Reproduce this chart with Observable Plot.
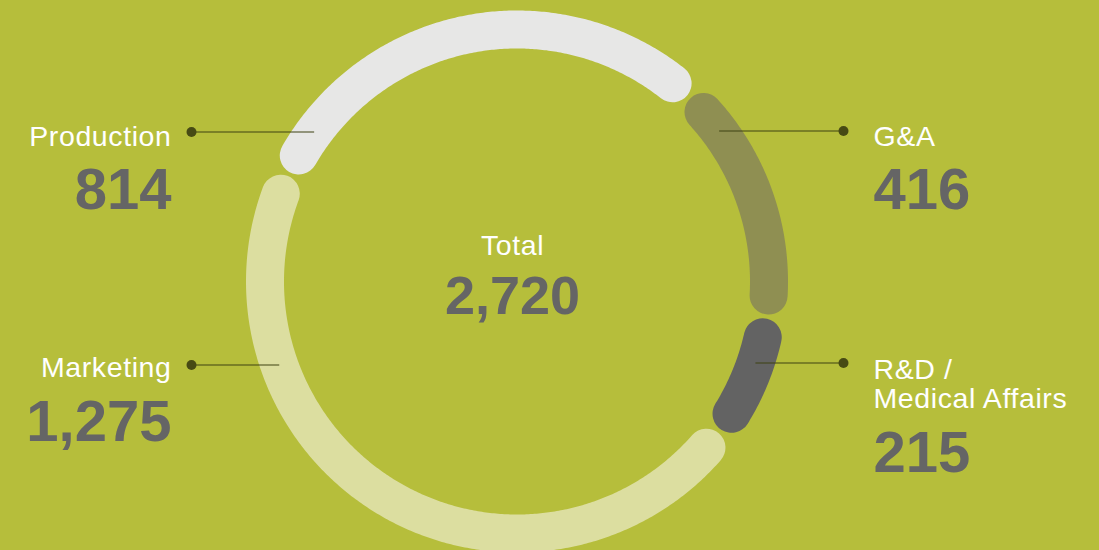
<!DOCTYPE html>
<html>
<head>
<meta charset="utf-8">
<script src="https://cdn.jsdelivr.net/npm/d3@7"></script>
<script src="https://cdn.jsdelivr.net/npm/@observablehq/plot@0.6"></script>
<style>
  html, body { margin: 0; padding: 0; background: #b6be3b; }
  #chart svg { display: block; }
  #chart g[fill="white"] text, #chart g[fill="white"] tspan { letter-spacing: 0.6px; }
</style>
</head>
<body>
<div id="chart"></div>
<script>
// ---- data ----
const categories = ["Production", "G&A", "R&D /\nMedical Affairs", "Marketing"];
const values = [814, 416, 215, 1275];
const colors = ["#e7e7e6", "#8f8f52", "#636363", "#dcdea0"];
const totalLabel = "Total";
const sides = ["left", "right", "right", "left"];

// ---- layout ----
const W = 1099, H = 550;
const cx = 516.5, cy = 281, R = 252;
const startAngle = -64.8;   // degrees, clockwise from top
const pad = 4.8;            // degrees trimmed from each end of a segment
const ringWidth = 38;
const leaderY = [131.5, 130.5, 362.5, 364.5];
const labelBase = [145, 145.5, 407.3, 376.7];
const valueBase = [208.5, 208.5, 471.5, 440.5];
const dotX = {left: 191, right: 843};
const textX = {left: 171, right: 873};
const centerTextX = 512;

const total = d3.sum(values);
const fmt = d3.format(",");

// ring segments sampled along their arcs
const ringPts = [];
let acc = 0;
values.forEach((v, i) => {
  const a0 = startAngle + acc / total * 360 + pad;
  const a1 = startAngle + (acc + v) / total * 360 - pad;
  acc += v;
  const n = Math.max(2, Math.ceil((a1 - a0) / 0.5));
  for (let k = 0; k <= n; k++) {
    const a = (a0 + (a1 - a0) * k / n) * Math.PI / 180;
    ringPts.push({cat: categories[i], color: colors[i], x: cx + R * Math.sin(a), y: cy - R * Math.cos(a)});
  }
});

// leader lines from ring to dot
const leaders = categories.map((c, i) => {
  const y = leaderY[i];
  const dx = Math.sqrt(R * R - (y - cy) * (y - cy));
  const side = sides[i];
  return {cat: c, y, x1: side === "left" ? cx - dx : cx + dx, x2: dotX[side], side};
});

const labelRows = categories.map((c, i) => ({
  label: c,
  value: fmt(values[i]),
  side: sides[i],
  x: textX[sides[i]],
  y: labelBase[i],
  yv: valueBase[i]
}));
const leftRows = labelRows.filter(d => d.side === "left");
const rightRows = labelRows.filter(d => d.side === "right");

const font = "'Liberation Sans', Arial, Helvetica, sans-serif";
const labelOpts = {x: "x", y: "y", text: "label", fill: "white", fontSize: 28.5, lineAnchor: "bottom", lineHeight: 29 / 28.5};
const valueOpts = {x: "x", y: "yv", text: "value", fill: "#656565", fontSize: 58, fontWeight: "bold", lineAnchor: "bottom"};

const chart = Plot.plot({
  width: W,
  height: H,
  margin: 0,
  x: {domain: [0, W], range: [0, W], axis: null},
  y: {domain: [0, H], range: [0, H], axis: null},
  style: {background: "#b6be3b", fontFamily: font},
  marks: [
    Plot.line(ringPts, {x: "x", y: "y", z: "cat", stroke: "color", strokeWidth: ringWidth, strokeLinecap: "round", strokeLinejoin: "round"}),
    Plot.link(leaders, {x1: "x1", y1: "y", x2: "x2", y2: "y", stroke: "#3f4212", strokeWidth: 1.2}),
    Plot.dot(leaders, {x: "x2", y: "y", r: 5, fill: "#474a14", stroke: null}),
    Plot.text(leftRows, {...labelOpts, textAnchor: "end"}),
    Plot.text(rightRows, {...labelOpts, textAnchor: "start"}),
    Plot.text(leftRows, {...valueOpts, textAnchor: "end"}),
    Plot.text(rightRows, {...valueOpts, textAnchor: "start"}),
    Plot.text([totalLabel], {x: [centerTextX], y: [254], text: d => d, textAnchor: "middle", fill: "white", fontSize: 28.5, lineAnchor: "bottom"}),
    Plot.text([fmt(total)], {x: [centerTextX], y: [313], text: d => d, textAnchor: "middle", fill: "#656565", fontSize: 54, fontWeight: "bold", lineAnchor: "bottom"})
  ]
});
document.getElementById("chart").append(chart);
</script>
</body>
</html>
